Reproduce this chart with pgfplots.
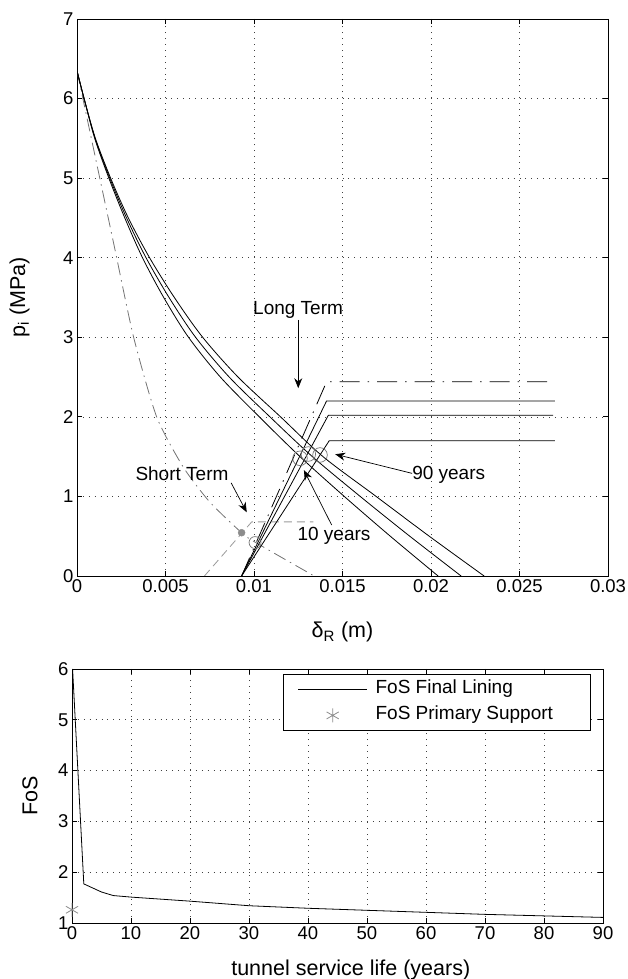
\documentclass[border=0pt]{standalone}
\usepackage{fontspec}
\setmainfont{Liberation Sans}
\usepackage{pgfplots}
\pgfplotsset{compat=1.18}
\usetikzlibrary{arrows.meta}

\pgfplotsset{
  mystyle/.style={
    scale only axis,
    axis line style={line width=0.9pt},
    tick align=inside, tick pos=both,
    major tick length=5pt,
    tick style={line width=0.8pt, black},
    grid=major,
    major grid style={black!75, line width=0.6pt, dash pattern=on 0.9pt off 5pt},
    ticklabel style={font=\fontsize{18.5}{20}\selectfont},
    label style={font=\fontsize{21.5}{24}\selectfont},
    /pgf/number format/assume math mode=true,
  },
  gr/.style={black, line width=0.8pt},
  lineleg/.style={legend image code/.code={\draw[##1] (0pt,0pt) -- (69pt,0pt);}},
  markleg/.style={legend image code/.code={\draw[draw=none] (0pt,0pt) -- (69pt,0pt); \draw[##1] plot coordinates {(34.5pt,0pt)};}},
}

\begin{document}
\begin{tikzpicture}[x=1pt,y=1pt]
\useasboundingbox (0,0) rectangle (627,979);

% ---------------- top axis ----------------
\begin{axis}[mystyle,
  at={(77pt,403pt)}, anchor=south west,
  width=531pt, height=557pt,
  xmin=0, xmax=0.03, ymin=0, ymax=7,
  scaled x ticks=false,
  xtick={0,0.005,0.01,0.015,0.02,0.025,0.03},
  xticklabels={0,0.005,0.01,0.015,0.02,0.025,0.03},
  ytick={0,1,2,3,4,5,6,7},
  xlabel={δ\textsubscript{R} (m)},
  ylabel={p\textsubscript{i} (MPa)},
  xlabel style={at={(axis description cs:0.5,-0.101)}, anchor=center},
  ylabel style={at={(axis description cs:-0.108,0.5)}, anchor=center},
]
% short-term ground curve (gray dash-dot)
\addplot[black!55, line width=0.8pt, smooth, tension=0.4, dash pattern=on 13pt off 5pt on 1.5pt off 5pt] coordinates {
(0,6.35) (0.0010,5.3) (0.0021,4.15) (0.0032,3.0) (0.0045,2.0) (0.0060,1.37) (0.0075,0.93)
(0.0093,0.544) (0.0101,0.42) (0.0134,0)};
% short-term support (light gray dashed)
\addplot[black!40, line width=0.8pt, dash pattern=on 8pt off 5pt] coordinates {
(0.0072,0) (0.00987,0.68) (0.01335,0.68)};
% ground reaction curves (long term)
\addplot[gr, smooth, tension=0.5] coordinates {
(0,6.35) (0.0004,6.0) (0.0010,5.5) (0.0018,5.0) (0.0027,4.5) (0.0037,4.0) (0.0049,3.5)
(0.0063,3.0) (0.0081,2.5) (0.0103,2.0) (0.0126,1.5) (0.0151,1.0) (0.0177,0.5) (0.0204,0)};
\addplot[gr, smooth, tension=0.5] coordinates {
(0,6.35) (0.0004,6.0) (0.00102,5.5) (0.00185,5.0) (0.0028,4.5) (0.0039,4.0) (0.0052,3.5)
(0.0067,3.0) (0.0086,2.5) (0.0109,2.0) (0.0133,1.5) (0.0160,1.0) (0.0188,0.5) (0.0217,0)};
\addplot[gr, smooth, tension=0.5] coordinates {
(0,6.35) (0.0004,6.0) (0.00104,5.5) (0.0019,5.0) (0.0029,4.5) (0.0041,4.0) (0.0055,3.5)
(0.0071,3.0) (0.0091,2.5) (0.0115,2.0) (0.0139,1.5) (0.0169,1.0) (0.0199,0.5) (0.0230,0)};
% long-term supports
\addplot[black, line width=0.8pt, dash pattern=on 20pt off 8pt on 1.5pt off 8pt] coordinates {
(0.0093,0) (0.0141,2.44) (0.0270,2.44)};
\addplot[gr] coordinates {(0.0093,0) (0.0141,2.20) (0.0270,2.20)};
\addplot[gr] coordinates {(0.0093,0) (0.0142,2.02) (0.0269,2.02)};
\addplot[gr] coordinates {(0.0093,0) (0.01425,1.70) (0.0270,1.70)};
% markers
\addplot[only marks, mark=*, mark size=3.5pt, black!45] coordinates {(0.0093,0.544)};
\addplot[only marks, mark=o, mark size=6pt, black!55, mark options={line width=0.7pt}] coordinates {(0.01006,0.42)};
\addplot[only marks, mark=o, mark size=7.3pt, black!55, mark options={line width=0.7pt}] coordinates {
(0.0126,1.479) (0.01307,1.533) (0.01373,1.521)};
% annotations
\node[font=\fontsize{19}{21}\selectfont] at (axis cs:0.01249,3.34) {Long Term};
\draw[black, line width=0.7pt, -{Stealth[length=10pt,width=8pt]}] (axis cs:0.0125,3.22) -- (axis cs:0.0125,2.36);
\node[font=\fontsize{19}{21}\selectfont] at (axis cs:0.00593,1.29) {Short Term};
\draw[black, line width=0.7pt, -{Stealth[length=10pt,width=8pt]}] (axis cs:0.00871,1.17) -- (axis cs:0.00959,0.80);
\node[font=\fontsize{19}{21}\selectfont, anchor=west, inner sep=0pt] at (axis cs:0.01893,1.27) {90 years};
\draw[black, line width=0.7pt, -{Stealth[length=10pt,width=8pt]}] (axis cs:0.01893,1.29) -- (axis cs:0.01459,1.53);
\node[font=\fontsize{19}{21}\selectfont] at (axis cs:0.01452,0.50) {10 years};
\draw[black, line width=0.7pt, -{Stealth[length=10pt,width=8pt]}] (axis cs:0.01439,0.64) -- (axis cs:0.01282,1.33);
\end{axis}

% ---------------- bottom axis ----------------
\begin{axis}[mystyle,
  at={(72pt,56pt)}, anchor=south west,
  width=531pt, height=254pt,
  xmin=0, xmax=90, ymin=1, ymax=6,
  xtick={0,10,20,30,40,50,60,70,80,90},
  ytick={1,2,3,4,5,6},
  clip=false,
  xlabel={tunnel service life (years)},
  ylabel={FoS},
  xlabel style={at={(axis description cs:0.525,-0.185)}, anchor=center},
  ylabel style={at={(axis description cs:-0.079,0.5)}, anchor=center},
  legend style={at={(axis description cs:0.9774,0.9803)}, anchor=north east,
    draw=black, line width=0.8pt, fill=white,
    font=\fontsize{19}{21}\selectfont,
    inner xsep=14pt, inner ysep=4.5pt, row sep=5pt, column sep=6pt,
    nodes={inner sep=2pt, text height=13pt, text depth=4pt}},
  legend cell align=left,
]
\addplot[gr, lineleg] coordinates {
(0.1,6.0) (2,1.77) (5,1.61) (7,1.54) (10,1.51) (20,1.43) (30,1.34) (40,1.29) (50,1.25)
(60,1.21) (70,1.17) (80,1.14) (90,1.11)};
\addlegendentry{FoS Final Lining}
\addplot[only marks, mark=asterisk, mark size=7pt, black!45, mark options={line width=0.8pt}, markleg]
  coordinates {(0,1.26)};
\addlegendentry{\makebox[199pt][l]{FoS Primary Support}}
\end{axis}
\end{tikzpicture}
\end{document}
